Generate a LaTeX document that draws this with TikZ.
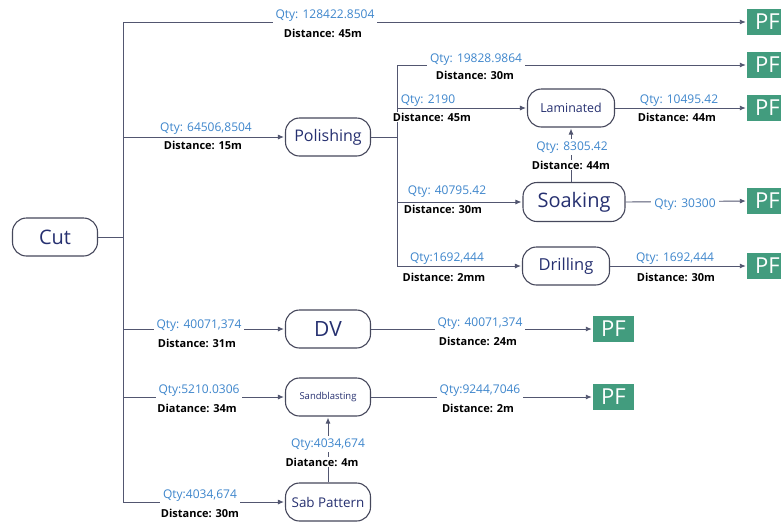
\documentclass[tikz,border=0pt]{standalone}
\usepackage{fontspec}
\setmainfont{Open Sans}
\usetikzlibrary{arrows.meta}
\definecolor{wire}{RGB}{82,86,112}
\definecolor{rim}{RGB}{70,72,92}
\definecolor{ink}{RGB}{38,48,112}
\definecolor{qtyblue}{RGB}{62,134,204}
\definecolor{pfgreen}{RGB}{66,156,126}
\tikzset{
  proc/.style={draw=rim, line width=1.1pt, rounded corners=14pt, fill=white,
    text=ink, minimum width=85pt, minimum height=38pt, inner sep=0pt},
  pf/.style={fill=pfgreen, text=white, font=\fontsize{22}{24}\selectfont,
    minimum width=41pt, minimum height=26pt, inner sep=0pt},
  wireline/.style={draw=wire, line width=0.9pt},
  flow/.style={wireline, -{Latex[length=6pt,width=5pt]}, shorten >=1pt},
  qty/.style={fill=white, text=qtyblue, inner xsep=3pt, inner ysep=2pt,
    anchor=base, font=\fontsize{12}{14}\selectfont},
  dist/.style={fill=white, font=\bfseries\fontsize{11}{13}\selectfont, inner sep=1pt, anchor=base}
}
\begin{document}
\begin{tikzpicture}[x=1pt,y=-1pt]
\clip (0,0) rectangle (781,523);
\fill[white] (0,0) rectangle (781,523);

% process boxes
\node[proc, font=\fontsize{20}{22}\selectfont] (cut) at (55,237) {Cut};
\node[proc, font=\fontsize{16}{18}\selectfont] (pol) at (328,137) {Polishing};
\node[proc, font=\fontsize{12.4}{14}\selectfont, minimum width=87pt] (lam) at (571,108) {Laminated};
\node[proc, font=\fontsize{20}{22}\selectfont, minimum width=102pt, minimum height=39pt] (soak) at (574,202) {Soaking};
\node[proc, font=\fontsize{16.5}{18}\selectfont, minimum width=87pt] (drill) at (566,266) {Drilling};
\node[proc, font=\fontsize{21}{23}\selectfont] (dv) at (328,329) {DV};
\node[proc, font=\fontsize{9.5}{11}\selectfont] (sand) at (328,397) {Sandblasting};
\node[proc, font=\fontsize{13.4}{15}\selectfont] (sab) at (328,502) {Sab Pattern};

% finished-product boxes
\node[pf] (pf1) at (767.5,22) {PF};
\node[pf] (pf2) at (767.5,65) {PF};
\node[pf] (pf3) at (767.5,108) {PF};
\node[pf] (pf4) at (767.5,201) {PF};
\node[pf] (pf5) at (767.5,266) {PF};
\node[pf] (pf6) at (613.5,329) {PF};
\node[pf] (pf7) at (613.5,397) {PF};

% junction points
\coordinate (trunkTop) at (123,22);
\coordinate (trunkMid) at (123,237);
\coordinate (trunkPol) at (123,137);
\coordinate (trunkDV) at (123,329);
\coordinate (trunkSand) at (123,397);
\coordinate (trunkBot) at (123,502);
\coordinate (subTop) at (397,65);
\coordinate (subPol) at (397,137);
\coordinate (subLam) at (397,108);
\coordinate (subSoak) at (397,202);
\coordinate (subBot) at (397,266);

% trunks
\draw[wireline] (cut.east) -- (trunkMid);
\draw[wireline] (trunkTop) -- (trunkBot);
\draw[wireline] (pol.east) -- (subPol);
\draw[wireline] (subTop) -- (subBot);

% connectors
\draw[flow] (trunkTop) -- (pf1.west);
\draw[flow] (trunkPol) -- (pol.west);
\draw[flow] (subTop) -- (pf2.west);
\draw[flow] (subLam) -- (lam.west);
\draw[flow] (lam.east) -- (pf3.west);
\draw[flow] (soak.north -| lam.south) -- (lam.south);
\draw[flow] (subSoak) -- (soak.west);
\draw[flow] (soak.east) -- (pf4.west);
\draw[flow] (subBot) -- (drill.west);
\draw[flow] (drill.east) -- (pf5.west);
\draw[flow] (trunkDV) -- (dv.west);
\draw[flow] (dv.east) -- (pf6.west);
\draw[flow] (trunkSand) -- (sand.west);
\draw[flow] (sand.east) -- (pf7.west);
\draw[flow] (sab.north) -- (sand.south);
\draw[flow] (trunkBot) -- (sab.west);

% quantity / distance labels
\node[qty] (q1) at (325,18) {Qty: 128422.8504};
\node[dist] (d1) at (323,37) {Distance: 45m};
\node[qty] (q2) at (206,131) {Qty: 64506,8504};
\node[dist] (d2) at (203,149) {Distance: 15m};
\node[qty] (q3) at (476,62) {Qty: 19828.9864};
\node[dist] (d3) at (475,79) {Distance: 30m};
\node[qty] (q4) at (428,103) {Qty: 2190};
\node[dist] (d4) at (432,121) {Distance: 45m};
\node[qty] (q5) at (679,103) {Qty: 10495.42};
\node[dist] (d5) at (677,121) {Distance: 44m};
\node[qty] (q6) at (572,150) {Qty: 8305.42};
\node[dist] (d6) at (571,169) {Distance: 44m};
\node[qty] (q7) at (447,194) {Qty: 40795.42};
\node[dist] (d7) at (443,213) {Distance: 30m};
\node[qty] (q8) at (685,207) {Qty: 30300};
\node[qty] (q9) at (447,261) {Qty:1692,444};
\node[dist] (d9) at (444,281) {Distance: 2mm};
\node[qty] (q10) at (675,261) {Qty: 1692,444};
\node[dist] (d10) at (676,281) {Distance: 30m};
\node[qty] (q11) at (199,328) {Qty: 40071,374};
\node[dist] (d11) at (197,347) {Distance: 31m};
\node[qty] (q12) at (480,326) {Qty: 40071,374};
\node[dist] (d12) at (478,345) {Distance: 24m};
\node[qty] (q13) at (199,393) {Qty:5210.0306};
\node[dist] (d13) at (197,412) {Diatance: 34m};
\node[qty] (q14) at (480,393) {Qty:9244,7046};
\node[dist] (d14) at (478,412) {Distance: 2m};
\node[qty] (q15) at (328,447) {Qty:4034,674};
\node[dist] (d15) at (322,466) {Diatance: 4m};
\node[qty] (q16) at (200,498) {Qty:4034,674};
\node[dist] (d16) at (200,517) {Distance: 30m};
\end{tikzpicture}
\end{document}
